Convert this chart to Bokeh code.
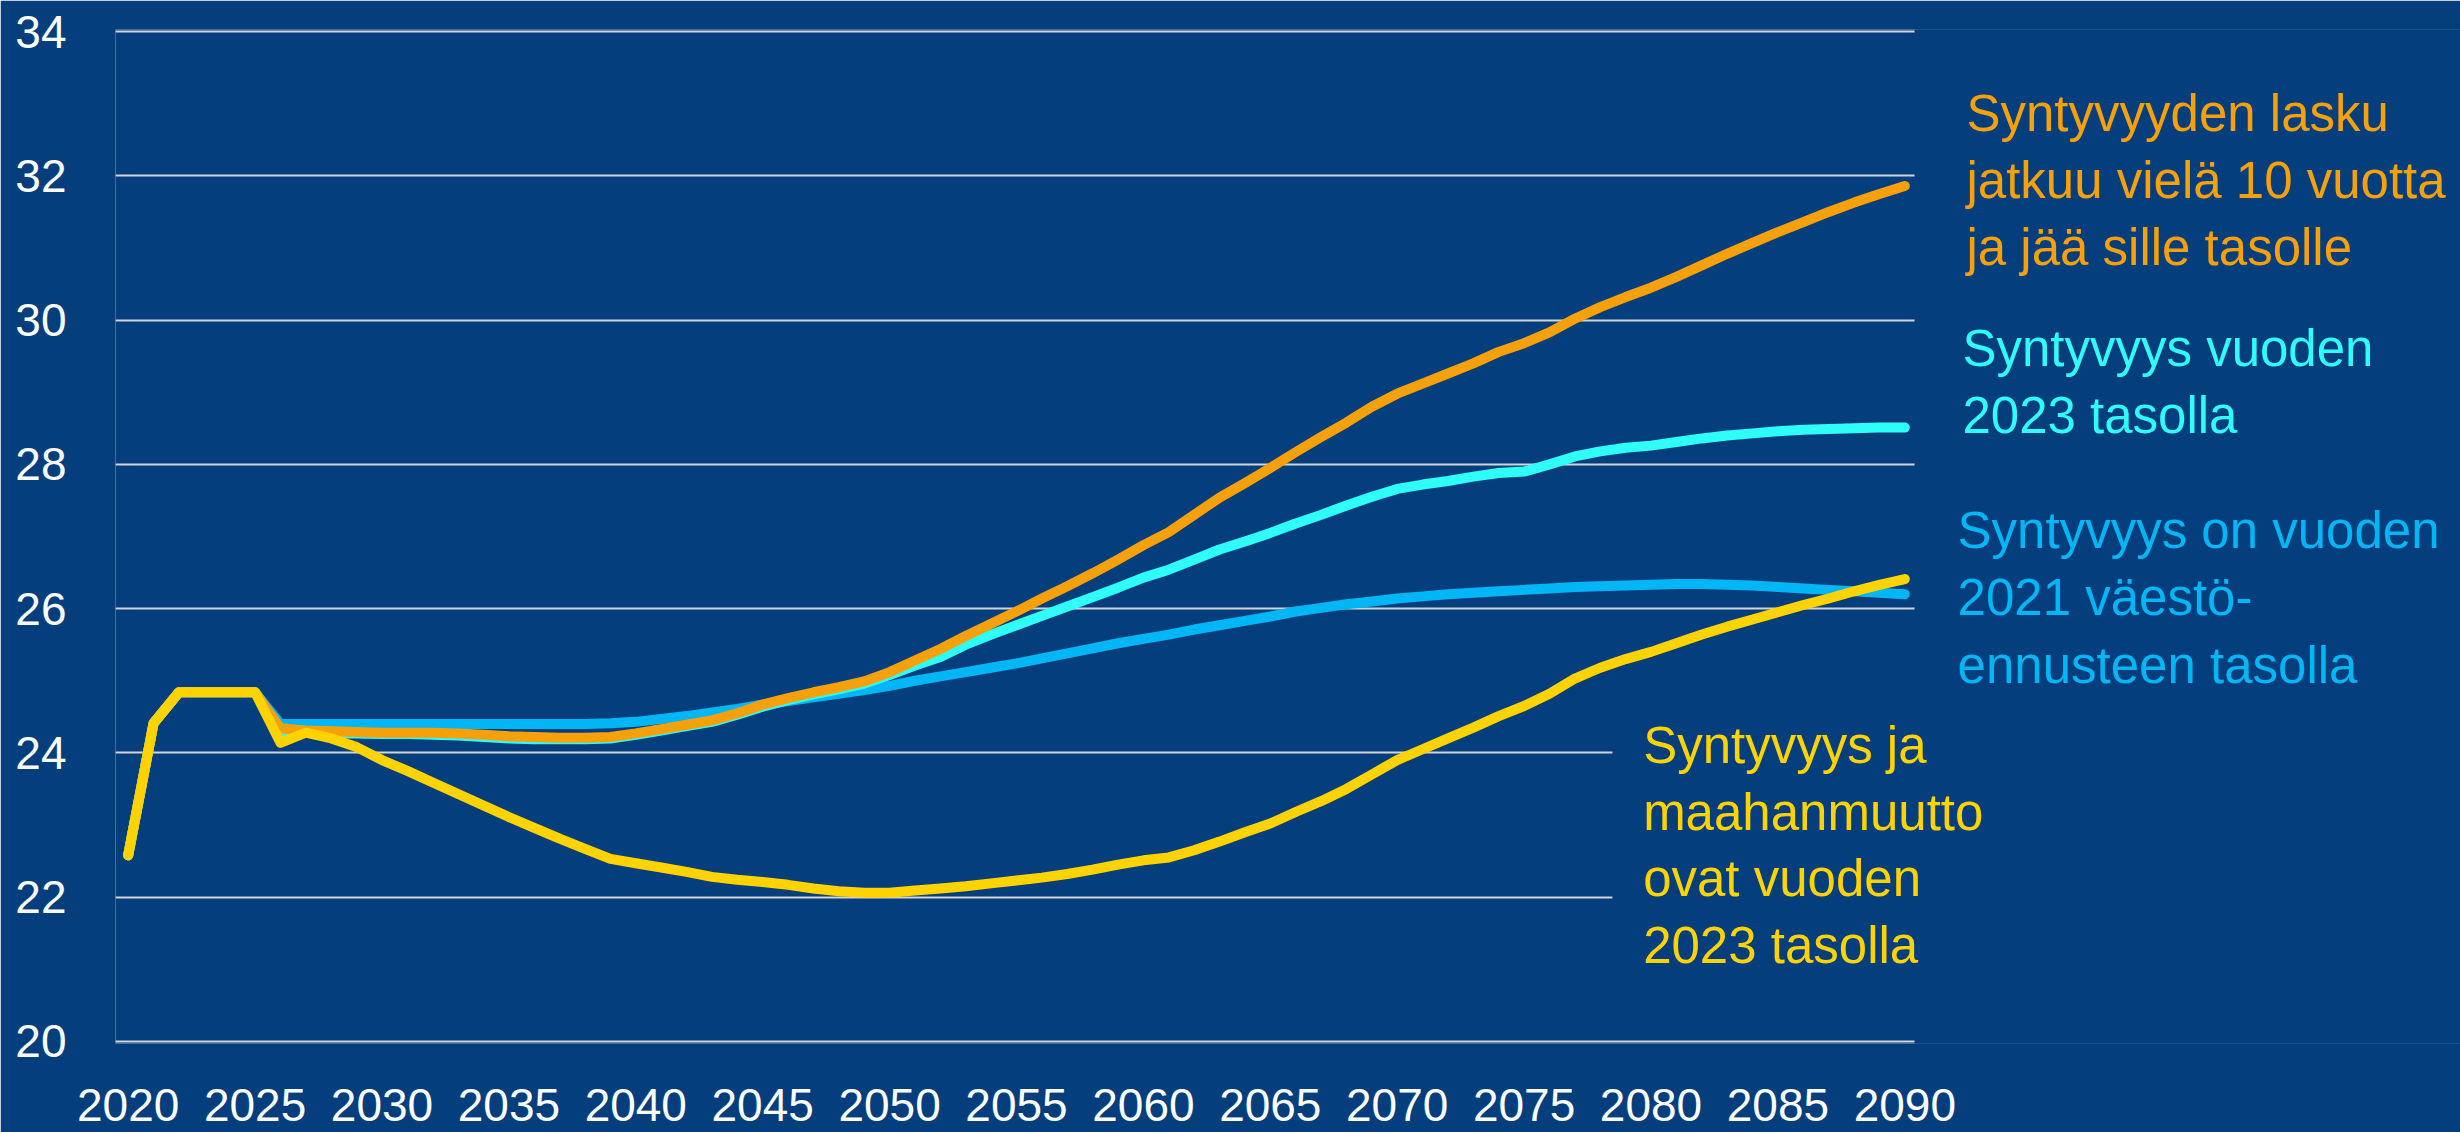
from bokeh.plotting import figure
from bokeh.models import FixedTicker, Label, BoxAnnotation, Range1d
from bokeh.embed import file_html
from bokeh.resources import INLINE

years = list(range(2020, 2091))

# Syntyvyys on vuoden 2021 väestöennusteen tasolla
blue = [22.58, 24.41, 24.84, 24.84, 24.84, 24.84,
        24.40, 24.40, 24.40, 24.40, 24.40, 24.40, 24.40, 24.40, 24.40, 24.40,
        24.40, 24.40, 24.40, 24.41, 24.43, 24.47, 24.51, 24.56, 24.61, 24.67,
        24.72, 24.77, 24.82, 24.87, 24.93, 25.00, 25.06, 25.12, 25.18, 25.24,
        25.31, 25.38, 25.45, 25.52, 25.58, 25.64, 25.71, 25.77, 25.83, 25.89,
        25.96, 26.01, 26.06, 26.10, 26.14, 26.17, 26.20, 26.22, 26.24, 26.26,
        26.28, 26.30, 26.31, 26.32, 26.33, 26.34, 26.34, 26.33, 26.32, 26.30,
        26.28, 26.26, 26.24, 26.22, 26.20]

# Syntyvyys vuoden 2023 tasolla
cyan = [22.58, 24.41, 24.84, 24.84, 24.84, 24.84,
        24.30, 24.28, 24.27, 24.27, 24.26, 24.26, 24.25, 24.24, 24.22, 24.20,
        24.19, 24.19, 24.19, 24.20, 24.25, 24.31, 24.37, 24.43, 24.53, 24.64,
        24.73, 24.81, 24.88, 24.96, 25.08, 25.21, 25.33, 25.50, 25.64, 25.77,
        25.90, 26.03, 26.16, 26.29, 26.43, 26.54, 26.68, 26.82, 26.93, 27.05,
        27.18, 27.30, 27.43, 27.55, 27.66, 27.72, 27.77, 27.83, 27.88, 27.90,
        28.00, 28.11, 28.18, 28.23, 28.26, 28.31, 28.36, 28.40, 28.43, 28.46,
        28.48, 28.49, 28.50, 28.51, 28.51]

# Syntyvyyden lasku jatkuu vielä 10 vuotta ja jää sille tasolle
orange = [22.58, 24.41, 24.84, 24.84, 24.84, 24.84,
          24.34, 24.31, 24.30, 24.29, 24.28, 24.28, 24.28, 24.27, 24.25, 24.23,
          24.22, 24.21, 24.21, 24.22, 24.27, 24.33, 24.39, 24.45, 24.55, 24.67,
          24.76, 24.84, 24.91, 24.99, 25.12, 25.28, 25.44, 25.62, 25.79, 25.96,
          26.14, 26.31, 26.49, 26.68, 26.88, 27.06, 27.30, 27.54, 27.74, 27.95,
          28.17, 28.38, 28.58, 28.80, 28.98, 29.12, 29.26, 29.40, 29.56, 29.68,
          29.83, 30.02, 30.18, 30.32, 30.45, 30.60, 30.76, 30.92, 31.07, 31.22,
          31.36, 31.50, 31.63, 31.75, 31.86]

# Syntyvyys ja maahanmuutto ovat vuoden 2023 tasolla
yellow = [22.58, 24.41, 24.84, 24.84, 24.84, 24.84,
          24.14, 24.28, 24.20, 24.08, 23.90, 23.75, 23.59, 23.43, 23.27, 23.11,
          22.96, 22.81, 22.67, 22.53, 22.47, 22.41, 22.35, 22.28, 22.24, 22.21,
          22.17, 22.12, 22.08, 22.06, 22.06, 22.09, 22.12, 22.15, 22.19, 22.23,
          22.27, 22.32, 22.38, 22.45, 22.51, 22.55, 22.65, 22.77, 22.90, 23.02,
          23.18, 23.33, 23.50, 23.70, 23.90, 24.05, 24.20, 24.35, 24.51, 24.65,
          24.82, 25.03, 25.18, 25.30, 25.40, 25.52, 25.64, 25.75, 25.85, 25.95,
          26.05, 26.14, 26.24, 26.33, 26.41]

x_ticks = list(range(2020, 2091, 5))
y_ticks = list(range(20, 35, 2))

BG = "#043E7C"
FONT = "Liberation Sans"

# the plotted area spans 2019.5..2090.5; the frame is widened to the right so
# that the notes beside the lines can be drawn inside it
X0, X1 = 2019.5, 2090.5
px_per_year = 1802 / (X1 - X0)
x_end = X0 + (2460 - 115) / px_per_year

p = figure(width=2460, height=1132, output_backend="svg", toolbar_location=None,
           x_range=Range1d(X0, x_end), y_range=Range1d(19.97, 34.03),
           min_border_left=115, min_border_right=0, min_border_top=29,
           min_border_bottom=89)
p.background_fill_color = BG
p.border_fill_color = BG
p.outline_line_color = None

p.xgrid.grid_line_color = None
p.ygrid.grid_line_color = "#D4D4D4"
p.ygrid.grid_line_width = 2

for ax in (p.xaxis[0], p.yaxis[0]):
    ax.axis_line_color = None
    ax.major_tick_line_color = None
    ax.minor_tick_line_color = None
    ax.major_tick_out = 0
    ax.major_tick_in = 0
    ax.major_label_text_color = "white"
    ax.major_label_text_font = FONT
    ax.major_label_text_font_size = "46px"

p.xaxis[0].ticker = FixedTicker(ticks=x_ticks)
p.yaxis[0].ticker = FixedTicker(ticks=y_ticks)
p.xaxis[0].major_label_standoff = 45
p.yaxis[0].major_label_standoff = 49

# hide gridlines right of the plot area, and behind the yellow note
p.add_layout(BoxAnnotation(left=X1, fill_color=BG, fill_alpha=1.0,
                           line_color=BG, line_alpha=1.0, line_width=6,
                           level="underlay"))
p.add_layout(BoxAnnotation(left=2078.48, bottom=21.2, top=24.8,
                           fill_color=BG, fill_alpha=1.0, line_alpha=0,
                           level="underlay"))

lw = 10
p.line(years, blue, line_color="#00B6F5", line_width=lw, line_cap="round", line_join="round")
p.line(years, cyan, line_color="#2EFDF8", line_width=lw, line_cap="round", line_join="round")
p.line(years, orange, line_color="#F7A10A", line_width=lw, line_cap="round", line_join="round")
p.line(years, yellow, line_color="#FFD300", line_width=lw, line_cap="round", line_join="round")

notes = [
    (2092.43, [32.866, 31.937, 31.009],
     ["Syntyvyyden lasku", "jatkuu vielä 10 vuotta", "ja jää sille tasolle"], "#F7A10A"),
    (2092.27, [29.608, 28.680], ["Syntyvyys vuoden", "2023 tasolla"], "#2EFDF8"),
    (2092.08, [27.086, 26.157, 25.214],
     ["Syntyvyys on vuoden", "2021 väestö-", "ennusteen tasolla"], "#00B6F5"),
    (2079.69, [24.105, 23.176, 22.262, 21.333],
     ["Syntyvyys ja", "maahanmuutto", "ovat vuoden", "2023 tasolla"], "#FFD300"),
]
for x0, ys, lines, col in notes:
    for yy, t in zip(ys, lines):
        p.add_layout(Label(x=x0, y=yy, text=t, text_color=col, text_font=FONT,
                           text_font_size="51px", text_baseline="alphabetic",
                           text_align="left"))

open("out.html", "w").write(file_html(p, INLINE))
